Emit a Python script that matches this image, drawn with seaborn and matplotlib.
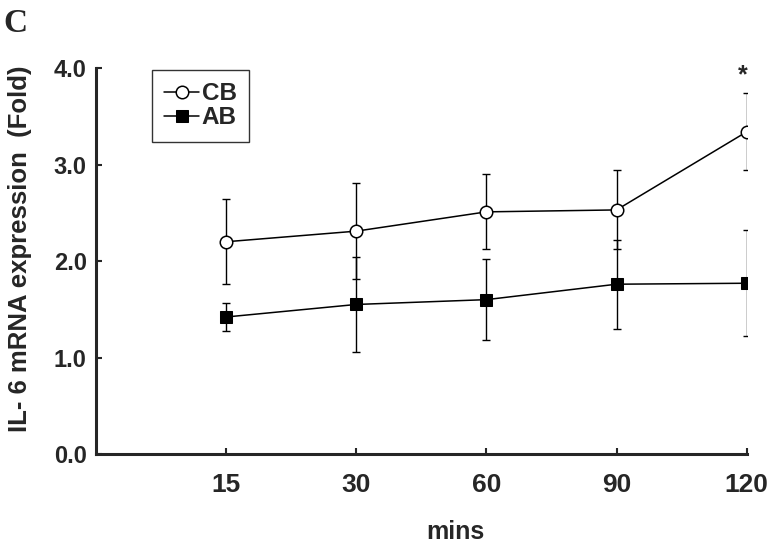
import numpy as np
import pandas as pd
import seaborn as sns
import matplotlib.pyplot as plt

mins = ['15', '30', '60', '90', '120']
cb_mean = [2.20, 2.31, 2.51, 2.53, 3.34]
cb_err = [0.44, 0.50, 0.39, 0.41, 0.40]
ab_mean = [1.42, 1.55, 1.60, 1.76, 1.77]
ab_err = [0.15, 0.49, 0.42, 0.46, 0.55]

sns.set_style('ticks')
plt.rcParams['font.family'] = ['Liberation Sans', 'DejaVu Sans']
plt.rcParams['font.weight'] = 'bold'

pos = np.arange(1, len(mins) + 1)
df = pd.DataFrame({'pos': np.concatenate([pos, pos]),
                   'val': cb_mean + ab_mean,
                   'grp': ['CB'] * 5 + ['AB'] * 5})

fig = plt.figure(figsize=(7.73, 5.45), dpi=100)
ax = fig.add_axes([0.124, 0.167, 0.842, 0.708])

# error bars first, so markers sit on top
for m, e in [(cb_mean, cb_err), (ab_mean, ab_err)]:
    ax.errorbar(pos, m, yerr=e, fmt='none', ecolor='black',
                elinewidth=1.0, capsize=2.7, capthick=1.0, zorder=1)

sns.lineplot(data=df[df.grp == 'CB'], x='pos', y='val', ax=ax, color='black',
             marker='o', markersize=9, markerfacecolor='white',
             markeredgecolor='black', markeredgewidth=1.1, linewidth=1.1,
             label='CB', zorder=3)
sns.lineplot(data=df[df.grp == 'AB'], x='pos', y='val', ax=ax, color='black',
             marker='s', markersize=9, markerfacecolor='black',
             markeredgecolor='black', linewidth=1.1, label='AB', zorder=3)

ax.text(pos[-1] - 0.03, 3.93, '*', ha='center', va='center', fontsize=18,
        fontweight='bold')

ax.set_xlim(0, 5)
ax.set_ylim(0, 4.0)
ax.set_xticks(pos)
ax.set_xticklabels(mins)
ax.set_yticks([0, 1, 2, 3, 4])
ax.set_yticklabels(['0.0', '1.0', '2.0', '3.0', '4.0'])
ax.tick_params(axis='both', direction='in', length=4.5, width=1.5)
ax.tick_params(axis='x', labelsize=19, pad=14)
ax.tick_params(axis='y', labelsize=17, pad=6.5)
for lab in ax.get_xticklabels() + ax.get_yticklabels():
    lab.set_fontweight('bold')

for s in ['top', 'right']:
    ax.spines[s].set_visible(False)
for s in ['left', 'bottom']:
    ax.spines[s].set_linewidth(2.2)

ax.set_xlabel('mins', fontsize=18, fontweight='bold')
ax.set_ylabel('IL- 6 mRNA expression  (Fold)', fontsize=18.5,
              fontweight='bold')
ax.xaxis.set_label_coords(0.553, -0.171)
ax.yaxis.set_label_coords(-0.098, 0.531)

leg = ax.legend(loc='upper left', bbox_to_anchor=(0.086, 0.995),
                borderaxespad=0, frameon=True, fancybox=False, fontsize=17.5,
                handlelength=1.45, handletextpad=0.1, borderpad=0.5,
                labelspacing=0.05)
leg.get_frame().set_edgecolor('black')
leg.get_frame().set_linewidth(1.0)
for t in leg.get_texts():
    t.set_fontweight('bold')

fig.text(0.004, 0.985, 'C', fontsize=24, fontweight='bold', va='top',
         family=['Liberation Serif', 'DejaVu Serif'])

fig.savefig('out.png', dpi=100)
